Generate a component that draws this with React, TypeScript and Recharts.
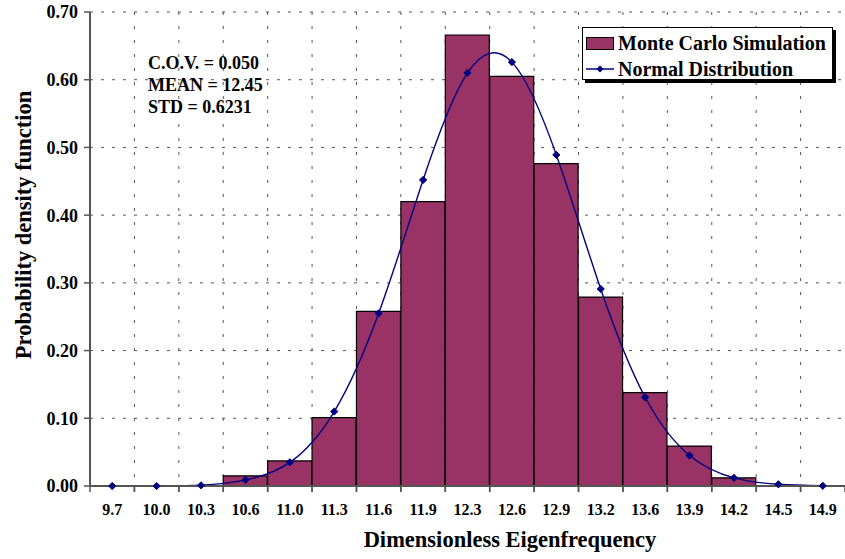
import React from 'react';
import {
    ComposedChart, Bar, Line, XAxis, YAxis, CartesianGrid,
} from 'recharts';

const categories = ['9.7', '10.0', '10.3', '10.6', '11.0', '11.3', '11.6', '11.9', '12.3', '12.6', '12.9', '13.2', '13.6', '13.9', '14.2', '14.5', '14.9'];
const monteCarlo = [0, 0, 0, 0.015, 0.037, 0.101, 0.258, 0.420, 0.666, 0.605, 0.476, 0.279, 0.138, 0.059, 0.012, 0, 0];
const normalDist = [0, 0, 0.001, 0.009, 0.035, 0.110, 0.255, 0.452, 0.610, 0.626, 0.489, 0.291, 0.131, 0.045, 0.012, 0.0025, 0.0003];
const yTicks = [0, 0.1, 0.2, 0.3, 0.4, 0.5, 0.6, 0.7];
const stats = ['C.O.V. = 0.050', 'MEAN = 12.45', 'STD = 0.6231'];

const data = categories.map((c, i) => ({
    cat: c,
    idx: i + 0.5,
    mc: monteCarlo[i],
    nd: normalDist[i],
}));
const boundaries = categories.slice(1).map((_, i) => i + 1);

const FONT = '"Liberation Serif", "Times New Roman", serif';
const PLUM = '#993366';
const NAVY = '#000080';

const XTick = (props: any) => {
    const { x, y, payload } = props;
    const half = payload && payload.offset ? payload.offset : 22.2;
    return (
        <g>
            <line x1={x - half} y1={y} x2={x - half} y2={y + 6} stroke="#555" strokeWidth={1.5} />
            <line x1={x + half} y1={y} x2={x + half} y2={y + 6} stroke="#555" strokeWidth={1.5} />
            <text x={x} y={y + 29} textAnchor="middle" fontFamily={FONT} fontWeight="bold" fontSize={16} fill="#000">
                {payload.value}
            </text>
        </g>
    );
};

const Diamond = (props: any) => {
    const { cx, cy } = props;
    if (cx == null || cy == null) return null;
    const r = 3.6;
    return <polygon points={`${cx},${cy - r} ${cx + r},${cy} ${cx},${cy + r} ${cx - r},${cy}`} fill={NAVY} stroke={NAVY} />;
};

const LegendBox = () => (
    <div style={{
        position: 'absolute', left: 582, top: 27, width: 251, height: 53, boxSizing: 'border-box',
        border: '1px solid #000', background: '#fff', boxShadow: '3px 3px 0 #000',
        padding: '2px 0 0 3px', fontFamily: FONT, fontWeight: 'bold', fontSize: 20, lineHeight: '26px', color: '#000',
        whiteSpace: 'nowrap',
    }}>
        <div style={{ display: 'flex', alignItems: 'center' }}>
            <span style={{ display: 'inline-block', width: 28, height: 13, boxSizing: 'border-box', background: PLUM, border: '1px solid #000', marginRight: 4 }} />
            Monte Carlo Simulation
        </div>
        <div style={{ display: 'flex', alignItems: 'center' }}>
            <svg width={28} height={12} style={{ marginRight: 4 }}>
                <line x1={0} y1={6} x2={28} y2={6} stroke={NAVY} strokeWidth={1.5} />
                <polygon points="14,2.4 17.6,6 14,9.6 10.4,6" fill={NAVY} />
            </svg>
            Normal Distribution
        </div>
    </div>
);

export default function App() {
    return (
        <div style={{ position: 'absolute', left: 0, top: 0, width: 845, height: 559, background: '#fff' }}>
            <ComposedChart
                width={845}
                height={559}
                data={data}
                margin={{ top: 12, right: 0, left: 0, bottom: 0 }}
                barCategoryGap={0}
                barGap={0}
            >
                <CartesianGrid horizontal={false} xAxisId="grid" verticalValues={boundaries} stroke="#555" strokeDasharray="3 11" />
                <CartesianGrid vertical={false} stroke="#555" strokeDasharray="3 8" />
                <XAxis xAxisId="grid" type="number" dataKey="idx" domain={[0, 17]} ticks={boundaries} hide />
                <XAxis
                    dataKey="cat"
                    interval={0}
                    height={73}
                    tickLine={false}
                    tickSize={0}
                    tickMargin={0}
                    axisLine={{ stroke: '#555', strokeWidth: 2 }}
                    tick={<XTick />}
                    label={{
                        content: () => (
                            <text x={510} y={547} textAnchor="middle" fontFamily={FONT} fontWeight="bold" fontSize={22.5} fill="#000">
                                Dimensionless Eigenfrequency
                            </text>
                        ),
                    }}
                />
                <YAxis
                    width={90}
                    domain={[0, 0.7]}
                    ticks={yTicks}
                    interval={0}
                    tickFormatter={(v: number) => v.toFixed(2)}
                    tickSize={6}
                    tickMargin={6}
                    tickLine={{ stroke: '#555', strokeWidth: 1.5 }}
                    axisLine={{ stroke: '#555', strokeWidth: 2 }}
                    tick={{ fontFamily: FONT, fontWeight: 'bold', fontSize: 18, fill: '#000' }}
                    label={{
                        content: () => (
                            <text x={31} y={225} transform="rotate(-90 31 225)" textAnchor="middle" fontFamily={FONT} fontWeight="bold" fontSize={22.5} fill="#000">
                                Probability density function
                            </text>
                        ),
                    }}
                />
                <Bar dataKey="mc" name="Monte Carlo Simulation" fill={PLUM} stroke="#000" strokeWidth={1.2} isAnimationActive={false} />
                <Line
                    type="natural"
                    dataKey="nd"
                    name="Normal Distribution"
                    stroke={NAVY}
                    strokeWidth={1.4}
                    dot={<Diamond />}
                    activeDot={false}
                    isAnimationActive={false}
                />
            </ComposedChart>
            <LegendBox />
            <div style={{
                position: 'absolute', left: 148, top: 52, fontFamily: FONT, fontWeight: 'bold', fontSize: 18, lineHeight: '22px', color: '#000',
            }}>
                {stats.map((s) => <div key={s}>{s}</div>)}
            </div>
        </div>
    );
}
